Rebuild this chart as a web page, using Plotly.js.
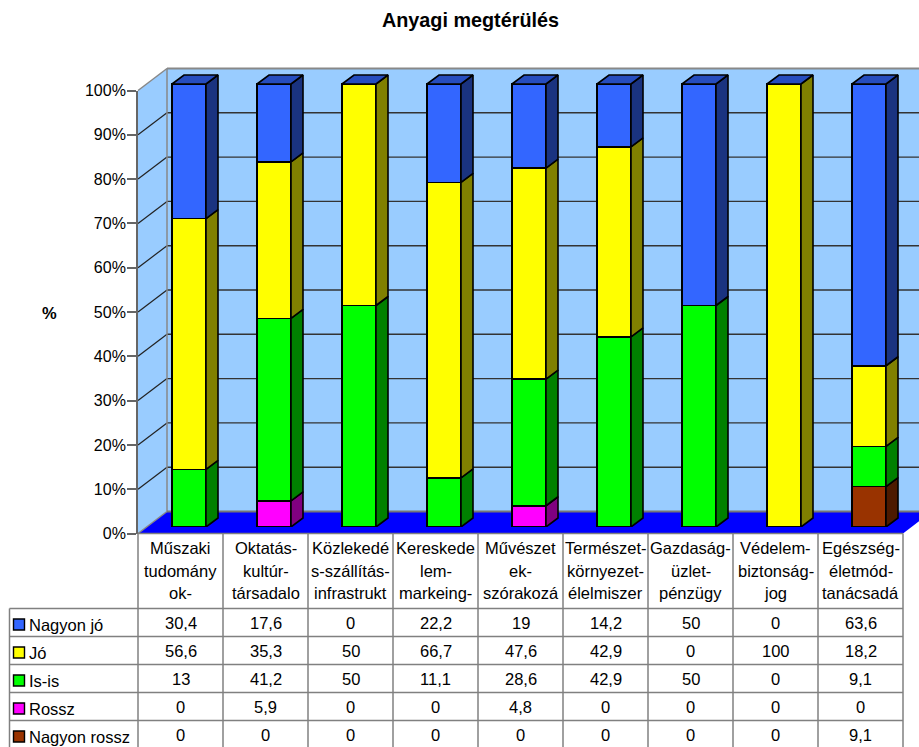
<!DOCTYPE html>
<html><head><meta charset="utf-8">
<script src="https://cdn.plot.ly/plotly-3.0.1.min.js"></script>
<style>html,body{margin:0;padding:0;background:#fff;overflow:hidden}</style>
</head><body><div id="chart" style="width:919px;height:747px"></div>
<script>
var categories = [
  ["Műszaki","tudomány","ok-"],
  ["Oktatás-","kultúr-","társadalo"],
  ["Közlekedé","s-szállítás-","infrastrukt"],
  ["Kereskede","lem-","markeing-"],
  ["Művészet","ek-","szórakozá"],
  ["Természet-","környezet-","élelmiszer"],
  ["Gazdaság-","üzlet-","pénzügy"],
  ["Védelem-","biztonság-","jog"],
  ["Egészség-","életmód-","tanácsadá"]
];
var nagyonJo    = [30.4,17.6,0,22.2,19,14.2,50,0,63.6];
var jo          = [56.6,35.3,50,66.7,47.6,42.9,0,100,18.2];
var isIs        = [13,41.2,50,11.1,28.6,42.9,50,0,9.1];
var rossz       = [0,5.9,0,0,4.8,0,0,0,0];
var nagyonRossz = [0,0,0,0,0,0,0,0,9.1];
var yTicks = [0,10,20,30,40,50,60,70,80,90,100];

var tableRows = [
  {name:"Nagyon jó",    values:nagyonJo,    color:"#3366FF", side:"#1A3380"},
  {name:"Jó",           values:jo,          color:"#FFFF00", side:"#808000"},
  {name:"Is-is",        values:isIs,        color:"#00FF00", side:"#008000"},
  {name:"Rossz",        values:rossz,       color:"#FF00FF", side:"#800080"},
  {name:"Nagyon rossz", values:nagyonRossz, color:"#993300", side:"#4D1A00"}
];

var W=919,H=747, FONT="Liberation Sans, Arial, sans-serif", FS=16.5;
var X0=138, XN=903, Y0=533.5, Y100=90.5;          // front frame
var DX=29, DY=22;                                 // whole depth of the box
var BDX=8.5, BDY=6.5;                             // bar front face offset into the box
var SDX=12, SDY=9;                                // depth of a bar
var n=categories.length, CW=(XN-X0)/n, PY=(Y0-Y100)/100;
var BARW=0.4, YMAX2=115;
function px(x){return x/W} function py(y){return (H-y)/H}
function valY(v){return Y0-v*PY}

var xs=categories.map(function(_,i){return i});
var sdx=SDX/CW, sdy=SDY/PY;
var base=xs.map(function(){return 0});
var stackTop=xs.map(function(i){var t=0;tableRows.forEach(function(r){t+=r.values[i]});return t});
// invisible trace so that the front axis pair (with its ticks) is drawn
var traces=[{type:"scatter",mode:"markers",x:xs,y:stackTop,xaxis:"x",yaxis:"y",marker:{opacity:0,size:1},hoverinfo:"skip",showlegend:false}];

tableRows.slice().reverse().forEach(function(r){
  traces.push({type:"bar",name:r.name,x:xs,y:r.values,xaxis:"x2",yaxis:"y2",width:BARW,
    marker:{color:r.color,line:{color:"#000",width:1.6}},hoverinfo:"name+y",showlegend:false});
  var sx=[],sy=[];
  xs.forEach(function(i){
    var v=r.values[i]; if(!v){return}
    var xr=i+BARW/2,b=base[i],t=b+v;
    sx.push(xr,xr+sdx,xr+sdx,xr,xr,null);
    sy.push(b,b+sdy,t+sdy,t,b,null);
    base[i]=t;
  });
  traces.push({type:"scatter",mode:"lines",x:sx,y:sy,xaxis:"x2",yaxis:"y2",fill:"toself",fillcolor:r.side,
    line:{color:"#000",width:1.6},hoverinfo:"skip",showlegend:false});
  var tx=[],ty=[];
  xs.forEach(function(i){
    var v=r.values[i]; if(!v||Math.abs(base[i]-stackTop[i])>1e-6){return}
    var xl=i-BARW/2,xr=i+BARW/2,t=stackTop[i];
    tx.push(xl,xr,xr+sdx,xl+sdx,xl,null);
    ty.push(t,t,t+sdy,t+sdy,t,null);
  });
  if(tx.length){traces.push({type:"scatter",mode:"lines",x:tx,y:ty,xaxis:"x2",yaxis:"y2",fill:"toself",fillcolor:"#264DBF",
    line:{color:"#000",width:1.6},hoverinfo:"skip",showlegend:false});}
});

var shapes=[], annotations=[];
function poly(pts,fill,lineColor,lw,layer){
  var d=pts.map(function(p,i){return (i?"L":"M")+px(p[0])+","+py(p[1])}).join("")+"Z";
  shapes.push({type:"path",xref:"paper",yref:"paper",path:d,fillcolor:fill,
    line:{color:lineColor||"rgba(0,0,0,0)",width:lw||0},layer:layer||"below"});
}
function seg(x1,y1,x2,y2,c,w,layer){
  shapes.push({type:"line",xref:"paper",yref:"paper",x0:px(x1),y0:py(y1),x1:px(x2),y1:py(y2),
    line:{color:c,width:w},layer:layer||"below"});
}
// walls & floor
poly([[X0+DX,Y100-DY],[XN+DX,Y100-DY],[XN+DX,Y0-DY],[X0+DX,Y0-DY]],"#99CCFF");
poly([[X0,Y100],[X0+DX,Y100-DY],[X0+DX,Y0-DY],[X0,Y0]],"#99CCFF");
poly([[X0,Y0],[X0+DX,Y0-DY],[XN+DX,Y0-DY],[XN,Y0]],"#0000FF");
// gridlines
yTicks.forEach(function(t){
  var y=valY(t);
  if(t>0&&t<100){
    seg(X0,y,X0+DX,y-DY,"#222",1.2);
    seg(X0+DX,y-DY,XN+DX,y-DY,"#333",1.4);
  }
});
// wall edges
seg(X0,Y100,X0+DX,Y100-DY,"#888",1.5);
seg(X0+DX,Y100-DY,XN+DX,Y100-DY,"#888",1.8);
seg(X0+DX,Y100-DY,X0+DX,Y0-DY,"#888",1.5);
seg(X0,Y0,X0+DX,Y0-DY,"#888",1.5);
seg(X0+DX,Y0-DY,XN+DX,Y0-DY,"#777",1.8);

// data table
var HEAD_B=608.5, ROW_H=28, TL=9.5;
var TC="#808080";
for(var k=0;k<=n;k++){ seg(X0+k*CW,Y0,X0+k*CW,H,TC,1.5,"above"); }
seg(TL,HEAD_B,TL,H,TC,1.5,"above");
seg(X0,Y0,XN,Y0,TC,1.5,"above");
for(var j=0;j<=5;j++){ seg(TL,HEAD_B+j*ROW_H,XN,HEAD_B+j*ROW_H,TC,1.5,"above"); }

function label(text,x,y,anchor,size,bold){
  annotations.push({xref:"paper",yref:"paper",x:px(x),y:py(y),text:bold?"<b>"+text+"</b>":text,showarrow:false,
    xanchor:anchor||"center",yanchor:"middle",xshift:0,yshift:0,borderpad:0,
    font:{family:FONT,size:size||FS,color:"#000"}});
}
categories.forEach(function(lines,i){
  lines.forEach(function(t,l){ label(t,X0+(i+0.5)*CW,548+l*22.7); });
});
tableRows.forEach(function(r,j){
  var cy=HEAD_B+(j+0.5)*ROW_H;
  label(r.name,28,cy+2.5,"left");
  r.values.forEach(function(v,i){ label(String(v).replace(".",","),X0+(i+0.5)*CW,cy+0.5); });
  var s=[[13.5,cy-3.5],[24.5,cy-3.5],[24.5,cy+7.5],[13.5,cy+7.5]];
  var d=s.map(function(p,i){return (i?"L":"M")+px(p[0])+","+py(p[1])}).join("")+"Z";
  shapes.push({type:"path",xref:"paper",yref:"paper",path:d,fillcolor:r.color,line:{color:"#000",width:1.4},layer:"above"});
});
label("%",49,313,"center",FS,true);

var layout={
  width:W,height:H,margin:{l:0,r:0,t:0,b:0},paper_bgcolor:"#fff",plot_bgcolor:"rgba(0,0,0,0)",
  barmode:"stack",showlegend:false,
  title:{text:"<b>Anyagi megtérülés</b>",font:{family:FONT,size:19.8,color:"#000"},x:470.5/W,xanchor:"center",y:py(20),yanchor:"middle"},
  xaxis:{domain:[px(X0),px(XN)],range:[-0.5,n-0.5],showticklabels:false,ticks:"",showgrid:false,zeroline:false,showline:false,anchor:"y"},
  yaxis:{domain:[py(Y0),py(Y100)],range:[0,100],tickmode:"array",tickvals:yTicks,ticktext:yTicks.map(function(t){return t+"%"}),
    ticks:"outside",ticklen:9,tickwidth:1.5,tickcolor:"#666",showline:true,linecolor:"#666",linewidth:1.8,showgrid:false,zeroline:false,
    ticklabelstandoff:-2,tickfont:{family:FONT,size:16,color:"#000"},anchor:"x"},
  xaxis2:{domain:[px(X0+BDX),px(XN+BDX)],range:[-0.5,n-0.5],visible:false,anchor:"y2",fixedrange:true},
  yaxis2:{domain:[py(Y0-BDY),py(Y0-BDY-YMAX2*PY)],range:[0,YMAX2],visible:false,anchor:"x2",fixedrange:true},
  shapes:shapes,annotations:annotations
};
Plotly.newPlot("chart",traces,layout,{displayModeBar:false,responsive:false});
</script></body></html>
